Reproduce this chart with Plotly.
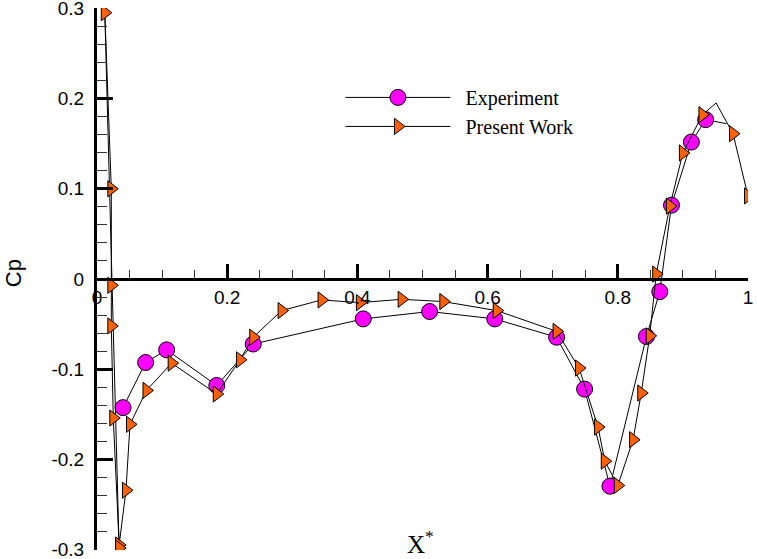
import plotly.graph_objects as go

# ---------------- data ----------------
exp_x = [0.040, 0.0747, 0.107, 0.184, 0.240, 0.409, 0.511, 0.611, 0.706,
         0.749, 0.788, 0.844, 0.8645, 0.8825, 0.913, 0.935, 0.967]
exp_y = [-0.1425, -0.0925, -0.0785, -0.118, -0.072, -0.0442, -0.036, -0.0442,
         -0.0645, -0.122, -0.2295, -0.0637, -0.014, 0.0818, 0.1517, 0.1765, 0.172]
exp_unmarked = [16]

pw_x = [1.000, 0.977, 0.951, 0.930, 0.900, 0.880, 0.859, 0.849, 0.836, 0.8235,
        0.800, 0.780, 0.7697, 0.7405, 0.706, 0.614, 0.532, 0.468, 0.4038, 0.345,
        0.2836, 0.240, 0.2196, 0.184, 0.1147, 0.076, 0.0507, 0.0445, 0.034,
        0.025, 0.022, 0.022, 0.022, 0.012, 0.034]
pw_y = [0.092, 0.161, 0.195, 0.182, 0.1396, 0.0807, 0.0055, -0.063, -0.1263, -0.178,
        -0.2287, -0.2018, -0.164, -0.0987, -0.058, -0.035, -0.025, -0.0225, -0.0262, -0.0232,
        -0.035, -0.0645, -0.0895, -0.1274, -0.0932, -0.1234, -0.161, -0.234, -0.2947,
        -0.154, -0.052, -0.007, 0.100, 0.295, -0.298]
pw_unmarked = [2]

x_ticks = [0, 0.2, 0.4, 0.6, 0.8, 1.0]
x_ticktext = ["0", "0.2", "0.4", "0.6", "0.8", "1"]
y_ticks = [-0.3, -0.2, -0.1, 0, 0.1, 0.2, 0.3]
y_ticktext = ["-0.3", "-0.2", "-0.1", "0", "0.1", "0.2", "0.3"]

series_names = ["Experiment", "Present Work"]

# ---------------- styles ----------------
EXP_COLOR = "#ff00ff"
PW_COLOR = "#ff6000"
LINE_COLOR = "black"
SANS = "Liberation Sans, Arial, sans-serif"
SERIF = "Liberation Serif, Times New Roman, serif"


def marked(xs, ys, skip):
    mx = [x for i, x in enumerate(xs) if i not in skip]
    my = [y for i, y in enumerate(ys) if i not in skip]
    return mx, my


fig = go.Figure()

# Experiment
fig.add_trace(go.Scatter(x=exp_x, y=exp_y, mode="lines",
                         line=dict(color=LINE_COLOR, width=1), showlegend=False,
                         hoverinfo="skip"))
emx, emy = marked(exp_x, exp_y, exp_unmarked)
fig.add_trace(go.Scatter(x=emx, y=emy, mode="markers",
                         marker=dict(symbol="circle", size=16, color=EXP_COLOR,
                                     line=dict(color="black", width=1)),
                         showlegend=False))
# Present work
fig.add_trace(go.Scatter(x=pw_x, y=pw_y, mode="lines",
                         line=dict(color=LINE_COLOR, width=1), showlegend=False,
                         hoverinfo="skip"))
pmx, pmy = marked(pw_x, pw_y, pw_unmarked)
fig.add_trace(go.Scatter(x=pmx, y=pmy, mode="markers",
                         marker=dict(symbol="triangle-right", size=14, color=PW_COLOR,
                                     line=dict(color="black", width=1)),
                         showlegend=False))

# legend entries
fig.add_trace(go.Scatter(x=[None], y=[None], mode="lines+markers", name="\u2002" + series_names[0],
                         line=dict(color=LINE_COLOR, width=1),
                         marker=dict(symbol="circle", size=16, color=EXP_COLOR,
                                     line=dict(color="black", width=1))))
fig.add_trace(go.Scatter(x=[None], y=[None], mode="lines+markers", name="\u2002" + series_names[1],
                         line=dict(color=LINE_COLOR, width=1),
                         marker=dict(symbol="triangle-right", size=14, color=PW_COLOR,
                                     line=dict(color="black", width=1))))

fig.update_layout(
    width=757, height=559,
    margin=dict(l=97, r=9, t=8, b=9, autoexpand=False),
    paper_bgcolor="white", plot_bgcolor="white",
    showlegend=True,
    legend=dict(x=0.374, y=0.871, xanchor="left", yanchor="top",
                bgcolor="rgba(0,0,0,0)", borderwidth=0,
                itemwidth=105, tracegroupgap=0,
                font=dict(family=SERIF, size=20, color="black")),
    xaxis=dict(range=[0, 1], anchor="free", position=0.5, side="bottom",
               automargin=False,
               showgrid=False, zeroline=False,
               showline=True, linewidth=3, linecolor="black",
               tickmode="array", tickvals=x_ticks, ticktext=x_ticktext,
               ticks="inside", ticklen=14, tickwidth=3, tickcolor="black",
               minor=dict(ticks="inside", dtick=0.05, tick0=0, ticklen=8, tickwidth=1,
                          tickcolor="#333"),
               ticklabelstandoff=0, ticklabeloverflow="allow",
               tickfont=dict(family=SANS, size=19, color="black")),
    yaxis=dict(range=[-0.3002, 0.3002], automargin=False,
               showgrid=False, zeroline=False,
               showline=True, linewidth=3, linecolor="black",
               tickmode="array", tickvals=y_ticks, ticktext=y_ticktext,
               ticks="inside", ticklen=16, tickwidth=3, tickcolor="black",
               minor=dict(ticks="inside", dtick=0.02, tick0=0, ticklen=10, tickwidth=1,
                          tickcolor="#333"),
               ticklabelstandoff=6, ticklabeloverflow="allow",
               tickfont=dict(family=SANS, size=19, color="black")),
    annotations=[
        dict(text="X<sup>*</sup>", xref="paper", yref="paper", x=0.497, y=-0.018,
             xanchor="center", yanchor="bottom", showarrow=False,
             font=dict(family=SERIF, size=25, color="black")),
        dict(text="Cp", xref="paper", yref="paper", x=-0.128, y=0.51,
             xanchor="center", yanchor="middle", showarrow=False, textangle=-90,
             font=dict(family=SANS, size=22, color="black")),
    ],
)

fig.write_html("out.html")
